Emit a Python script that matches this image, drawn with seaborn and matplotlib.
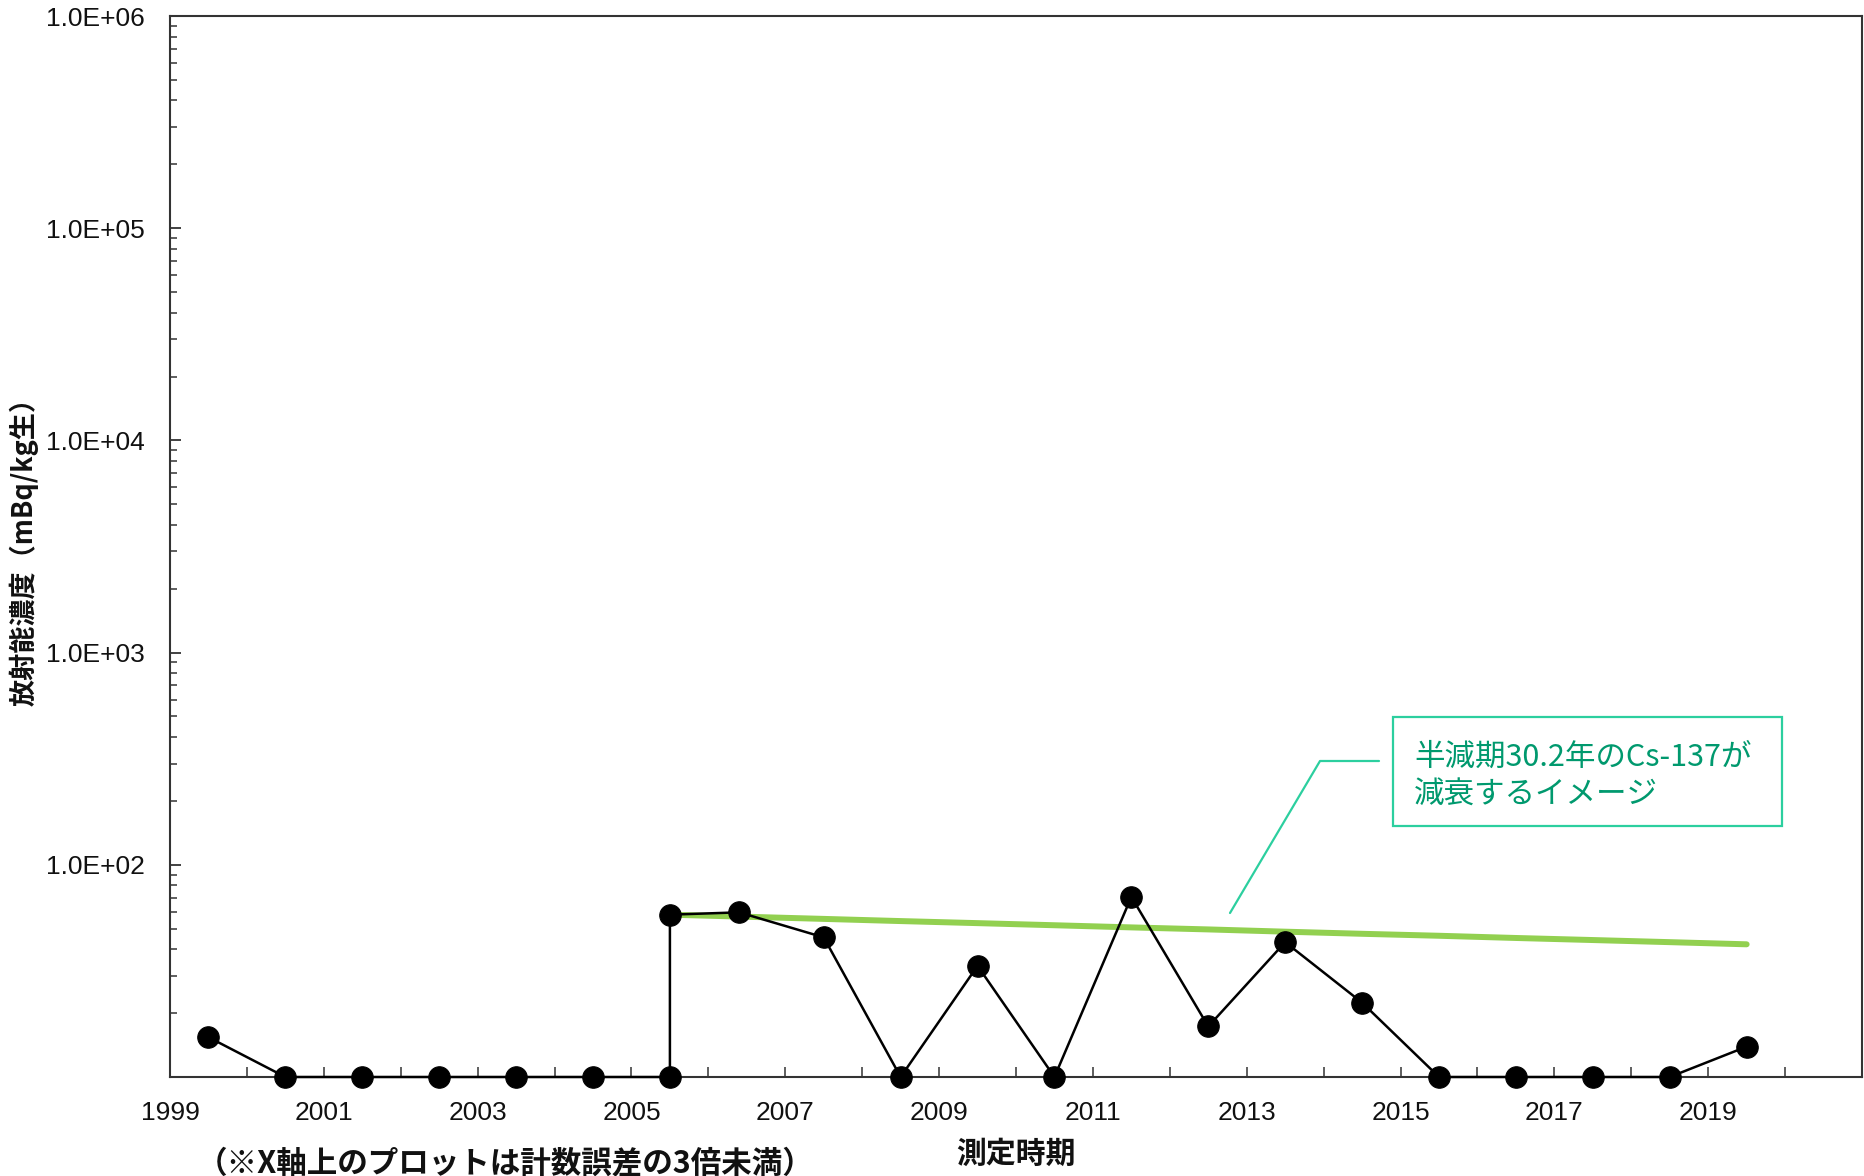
import matplotlib
matplotlib.use("Agg")
import matplotlib.pyplot as plt
from matplotlib.ticker import FixedLocator, LogLocator, NullFormatter, FixedFormatter
from matplotlib.lines import Line2D
from matplotlib.patches import Rectangle
import pandas as pd
import seaborn as sns

sns.set_theme(style="white")
plt.rcParams["font.family"] = ["Noto Sans CJK JP", "DejaVu Sans"]

# Measured Cs-137 concentrations (mBq/kg wet); 10 = plotted on the x axis (below 3x counting error)
meas_year = [1999.5, 2000.5, 2001.5, 2002.5, 2003.5, 2004.5, 2005.5, 2005.5,
             2006.4, 2007.5, 2008.5, 2009.5, 2010.5, 2011.5, 2012.5, 2013.5,
             2014.5, 2015.5, 2016.5, 2017.5, 2018.5, 2019.5]
meas_value = [15.4, 10, 10, 10, 10, 10, 10, 58.2,
              59.7, 45.5, 10, 33.4, 10, 70.6, 17.3, 43.2,
              22.4, 10, 10, 10, 10, 13.9]

# Decay reference line (half-life 30.2 y) starting from the 2005 value
decay_year = [2005.5, 2006.5, 2007.5, 2008.5, 2009.5, 2010.5, 2011.5, 2012.5,
              2013.5, 2014.5, 2015.5, 2016.5, 2017.5, 2018.5, 2019.5]
decay_value = [58.2, 56.9, 55.6, 54.3, 53.1, 51.9, 50.7, 49.6,
               48.4, 47.3, 46.3, 45.2, 44.2, 43.2, 42.2]

y_tick_values = [1e1, 1e2, 1e3, 1e4, 1e5, 1e6]
y_tick_labels = ["", "1.0E+02", "1.0E+03", "1.0E+04", "1.0E+05", "1.0E+06"]
x_label_years = [1999, 2001, 2003, 2005, 2007, 2009, 2011, 2013, 2015, 2017, 2019]

meas = pd.DataFrame({"year": meas_year, "value": meas_value})
decay = pd.DataFrame({"year": decay_year, "value": decay_value})

W, H = 1864, 1176
fig = plt.figure(figsize=(W / 100, H / 100), dpi=100)
ax = fig.add_axes([170 / W, 99 / H, 1692 / W, 1061 / H])

sns.lineplot(data=decay, x="year", y="value", ax=ax, color="#92d050",
             linewidth=4.3, estimator=None, sort=False, zorder=3)
sns.lineplot(data=meas, x="year", y="value", ax=ax, color="black",
             linewidth=1.8, estimator=None, sort=False, marker="o",
             markersize=15.5, markeredgecolor="black", markerfacecolor="black",
             zorder=4)
for ln in ax.lines:
    ln.set_clip_on(False)

ax.set_yscale("log")
ax.set_ylim(10, 1e6)
ax.set_xlim(1999, 2021)

ax.yaxis.set_major_locator(FixedLocator(y_tick_values))
ax.yaxis.set_major_formatter(FixedFormatter(y_tick_labels))
ax.yaxis.set_minor_locator(LogLocator(base=10, subs=range(2, 10), numticks=20))
ax.yaxis.set_minor_formatter(NullFormatter())

ax.set_xticks(range(1999, 2022))
ax.set_xticklabels([str(y) if y in x_label_years else "" for y in range(1999, 2022)])

ax.tick_params(axis="y", which="major", direction="in", length=8, width=1.3,
               color="#333333", pad=18, labelsize=19, left=True)
ax.tick_params(axis="y", which="minor", direction="in", length=5, width=1.1,
               color="#333333", left=True)
ax.tick_params(axis="x", which="major", direction="in", length=7, width=1.1,
               color="#333333", pad=17, labelsize=19, bottom=True)
for lab in ax.get_xticklabels() + ax.get_yticklabels():
    lab.set_family(["Liberation Sans", "DejaVu Sans"])
    lab.set_color("#111111")

for sp in ax.spines.values():
    sp.set_visible(True)
    sp.set_color("#333333")
    sp.set_linewidth(1.5)

ax.set_xlabel("")
ax.set_ylabel("")
ax.grid(False)

fig.text(24 / W, 1 - 545 / H, "放射能濃度（mBq/kg生）", rotation=90,
         ha="center", va="center", fontsize=19.5, fontweight="bold", color="#111111")
fig.text(1016 / W, 1 - 1154 / H, "測定時期", ha="center", va="center",
         fontsize=21.5, fontweight="bold", color="#111111")
fig.text(505 / W, 1 - 1163 / H, "（※X軸上のプロットは計数誤差の3倍未満）",
         ha="center", va="center", fontsize=22, fontweight="bold", color="#111111")

# Callout box with leader line
teal = "#2ccf9f"
fig.add_artist(Rectangle((1393 / W, 1 - 826 / H), (1782 - 1393) / W, (826 - 717) / H,
                         transform=fig.transFigure, fill=False, edgecolor=teal,
                         linewidth=1.6))
fig.add_artist(Line2D([1230 / W, 1320 / W, 1379 / W],
                      [1 - 913 / H, 1 - 761 / H, 1 - 761 / H],
                      transform=fig.transFigure, color=teal, linewidth=1.6))
fig.text(1414 / W, 1 - 776 / H, "半減期30.2年のCs-137が\n減衰するイメージ",
         ha="left", va="center", fontsize=22, color="#00996e", linespacing=1.3)

fig.savefig("out.png", dpi=100)
